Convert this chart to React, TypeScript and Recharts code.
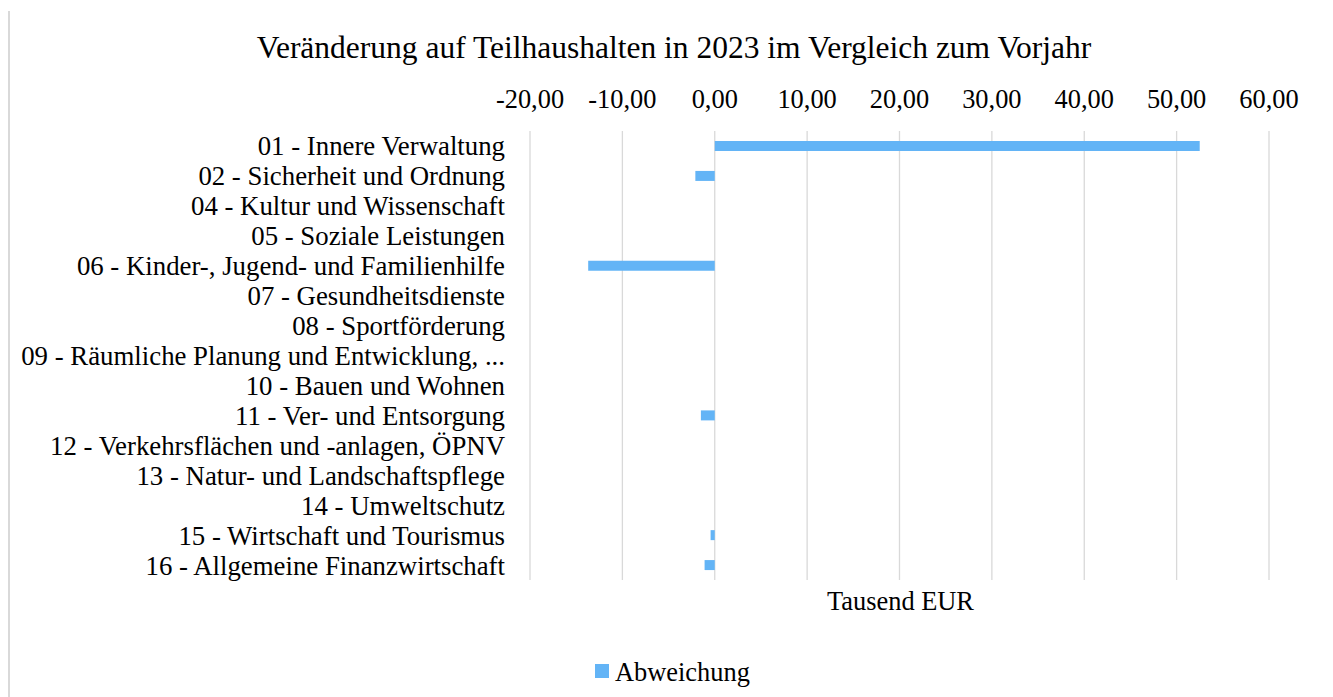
import { BarChart, Bar, XAxis, YAxis, CartesianGrid } from 'recharts';

const categories = [
  '01 - Innere Verwaltung',
  '02 - Sicherheit und Ordnung',
  '04 - Kultur und Wissenschaft',
  '05 - Soziale Leistungen',
  '06 - Kinder-, Jugend- und Familienhilfe',
  '07 - Gesundheitsdienste',
  '08 - Sportförderung',
  '09 - Räumliche Planung und Entwicklung, ...',
  '10 - Bauen und Wohnen',
  '11 - Ver- und Entsorgung',
  '12 - Verkehrsflächen und -anlagen, ÖPNV',
  '13 - Natur- und Landschaftspflege',
  '14 - Umweltschutz',
  '15 - Wirtschaft und Tourismus',
  '16 - Allgemeine Finanzwirtschaft',
];

// Abweichung in Tausend EUR
const abweichung = [52.5, -2.1, 0, 0, -13.7, 0, 0, 0, 0, -1.5, 0, 0, 0, -0.45, -1.1];

const xTicks = [-20, -10, 0, 10, 20, 30, 40, 50, 60];

const data = categories.map((name, i) => ({ name, Abweichung: abweichung[i] }));

const BAR_COLOR = '#63B4F6';
const GRID = '#d9d9d9';
const FONT = "'Liberation Serif', 'Times New Roman', serif";
const FS = 26.4;

const fmt = (v: number) => v.toFixed(2).replace('.', ',');

export default function App() {
  return (
    <div style={{ position: 'relative', width: 1320, height: 689, fontFamily: FONT, color: '#000' }}>
      <div
        style={{
          position: 'absolute', left: 0, top: 3, width: 1320, height: 686,
          borderLeft: `2px solid ${GRID}`, borderRight: `2px solid ${GRID}`, boxSizing: 'border-box',
        }}
      />
      <div
        style={{
          position: 'absolute', left: 166, top: 24, width: 1000, textAlign: 'center',
          fontSize: 31.5, lineHeight: '31.5px', whiteSpace: 'nowrap',
        }}
      >
        Veränderung auf Teilhaushalten in 2023 im Vergleich zum Vorjahr
      </div>
      <div style={{ position: 'absolute', left: 0, top: 0 }}>
        <BarChart
          width={1320}
          height={689}
          data={data}
          layout="vertical"
          barSize={10}
          margin={{ top: 83, right: 59, bottom: 117, left: 0 }}
          style={{ fontFamily: FONT }}
        >
          <CartesianGrid horizontal={false} stroke={GRID} strokeWidth={1.3} />
          <XAxis
            type="number"
            orientation="top"
            domain={[-20, 60]}
            ticks={xTicks}
            tickFormatter={fmt}
            height={40}
            axisLine={false}
            tickLine={false}
            tickSize={0}
            tickMargin={23}
            tick={{ fontSize: FS, fill: '#000' }}
          />
          <YAxis
            type="category"
            dataKey="name"
            width={522}
            axisLine={false}
            tickLine={false}
            tickSize={0}
            tickMargin={25}
            interval={0}
            tick={{ fontSize: 26.8, fill: '#000' }}
          />
          <Bar dataKey="Abweichung" fill={BAR_COLOR} isAnimationActive={false} />
        </BarChart>
      </div>
      <div
        style={{
          position: 'absolute', left: 692.5, top: 579.5, width: 400, textAlign: 'center',
          fontSize: FS, lineHeight: `${FS}px`,
        }}
      >
        Tausend EUR
      </div>
      <div style={{ position: 'absolute', left: 587, top: 656, width: 14, height: 14, background: BAR_COLOR }} />
      <div style={{ position: 'absolute', left: 607, top: 650.5, fontSize: FS, lineHeight: `${FS}px`, whiteSpace: 'nowrap' }}>
        Abweichung
      </div>
    </div>
  );
}
